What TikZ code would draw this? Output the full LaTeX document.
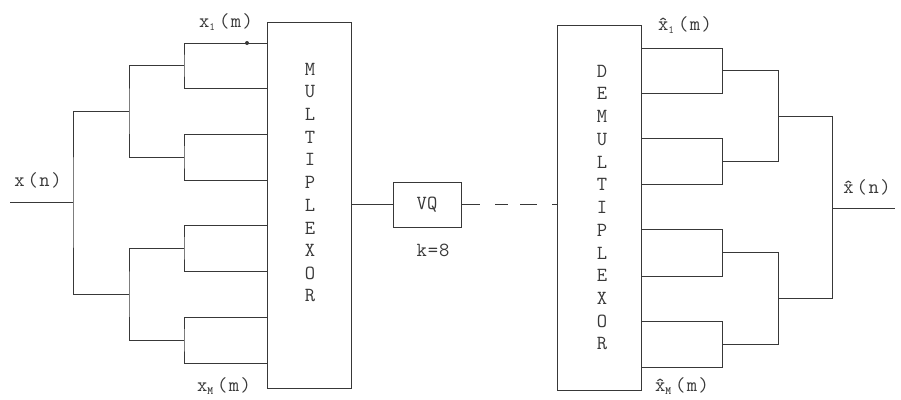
\documentclass[tikz,border=0pt]{standalone}
\usepackage{fontspec}
\definecolor{ink}{HTML}{383838}
\newcommand{\subone}{\raisebox{-3pt}{\fontsize{11}{11}\selectfont 1}}
\newcommand{\subem}{\raisebox{-3pt}{\fontsize{11}{11}\selectfont\bfseries M}}
\newcommand{\xhat}{\^{x}}
\newcommand{\argm}{(\kern1.5pt m\kern1.5pt)}
\newcommand{\argn}{(\kern1.5pt n\kern1.5pt)}
\begin{document}
\begin{tikzpicture}[x=1pt,y=-1pt,
  wire/.style={draw=ink,line width=0.9pt,line join=miter},
  blockbox/.style={draw=ink,line width=0.9pt,inner sep=0pt},
  lbl/.style={text=ink,inner sep=0pt,font=\ttfamily\fontsize{20}{22}\selectfont},
  letter/.style={text=ink,inner sep=0pt,font=\ttfamily\fontsize{20}{22}\selectfont}]
\useasboundingbox (0,0) rectangle (901,399);

% blocks
\node[blockbox,minimum width=84pt,minimum height=366pt] (mux) at (309,205) {};
\node[blockbox,minimum width=84pt,minimum height=365pt] (demux) at (599,207.5) {};
\node[blockbox,minimum width=68pt,minimum height=45pt] (vq) at (427,204.5) {};
\node[lbl] (vqt) at (vq.center) {VQ};
\node[lbl] (kk) at (433,250) {k\kern1pt=\kern1pt8};

% vertical lettering in the blocks
\foreach \c [count=\i from 0] in {M,U,L,T,I,P,L,E,X,O,R}
  \node[letter] (m\i) at (310,69+22.7*\i) {\c};
\foreach \c [count=\i from 0] in {D,E,M,U,L,T,I,P,L,E,X,O,R}
  \node[letter] (d\i) at (602,71+22.75*\i) {\c};

% analysis tree feeding the multiplexor
\foreach \i/\y in {1/43,2/88,3/134,4/180,5/225,6/271,7/317,8/363}
  \coordinate (li\i) at (267,\y);
\coordinate (f1) at (184,65.5);
\coordinate (f2) at (184,157);
\coordinate (f3) at (184,248);
\coordinate (f4) at (184,340);
\coordinate (g1) at (129,111);
\coordinate (g2) at (129,294);
\coordinate (h) at (73,202);
\coordinate (in) at (10,202);
\draw[wire] (li1) -| (f1) |- (li2);
\draw[wire] (li3) -| (f2) |- (li4);
\draw[wire] (li5) -| (f3) |- (li6);
\draw[wire] (li7) -| (f4) |- (li8);
\draw[wire] (f1) -| (g1) |- (f2);
\draw[wire] (f3) -| (g2) |- (f4);
\draw[wire] (g1) -| (h) |- (g2);
\draw[wire] (in) -- (h);
\fill[ink] (247,43) circle (2pt);

% synthesis tree after the demultiplexor
\foreach \i/\y in {1/48,2/93,3/138,4/184,5/229,6/276,7/321,8/367}
  \coordinate (ro\i) at (641,\y);
\coordinate (p1) at (722,70.5);
\coordinate (p2) at (722,161);
\coordinate (p3) at (722,252.5);
\coordinate (p4) at (722,344);
\coordinate (q1) at (778,116);
\coordinate (q2) at (778,298);
\coordinate (r) at (832,208);
\coordinate (out) at (895,208);
\draw[wire] (ro1) -| (p1) |- (ro2);
\draw[wire] (ro3) -| (p2) |- (ro4);
\draw[wire] (ro5) -| (p3) |- (ro6);
\draw[wire] (ro7) -| (p4) |- (ro8);
\draw[wire] (p1) -| (q1) |- (p2);
\draw[wire] (p3) -| (q2) |- (p4);
\draw[wire] (q1) -| (r) |- (q2);
\draw[wire] (r) -- (out);

% channel
\draw[wire] (mux.east |- vq.west) -- (vq.west);
\draw[wire,dash pattern=on 19pt off 15pt on 13pt off 12pt on 17pt off 15pt]
  (vq.east) -- (vq.east -| demux.west);

% signal labels
\node[lbl] (xin) at (38,180) {x\kern3pt\argn};
\node[lbl] (xout) at (867,187) {\xhat\kern3pt\argn};
\node[lbl] (x1) at (226,22) {x\subone\kern4pt\argm};
\node[lbl] (xM) at (224,386) {x\subem\kern4pt\argm};
\node[lbl] (xh1) at (685,25) {\xhat\subone\kern4pt\argm};
\node[lbl] (xhM) at (682,386) {\xhat\subem\kern4pt\argm};
\end{tikzpicture}
\end{document}
